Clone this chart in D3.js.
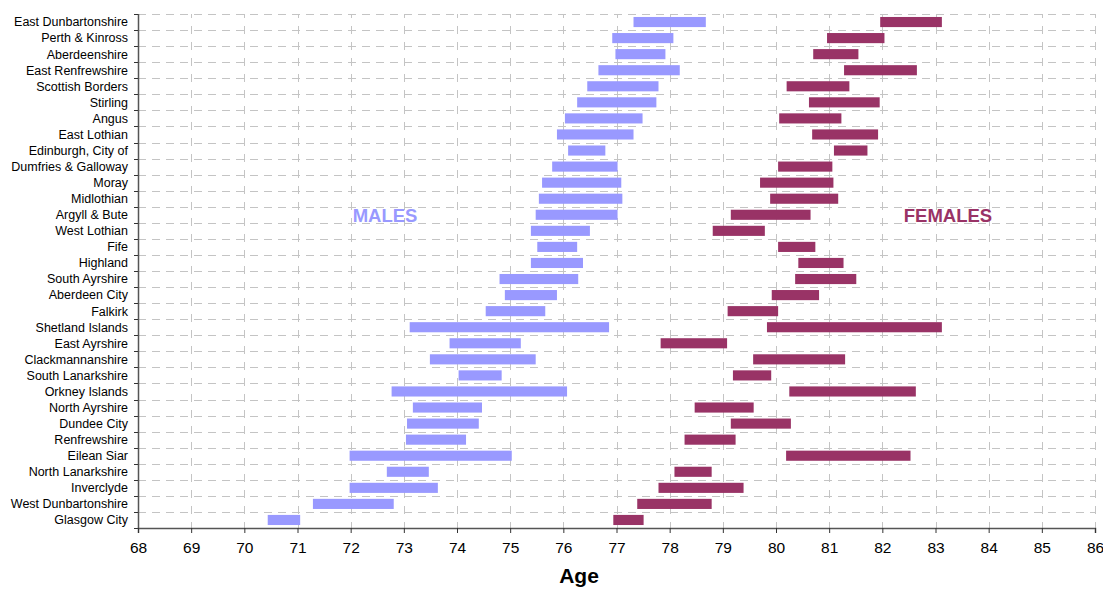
<!DOCTYPE html>
<html><head><meta charset="utf-8">
<script src="https://cdn.jsdelivr.net/npm/d3@7"></script>
<style>
html,body{margin:0;padding:0;background:#fff;}
svg text{font-family:"Liberation Sans",Arial,sans-serif;}
</style></head>
<body><svg id="chart" width="1103" height="589"></svg>
<script>
const categories = ["East Dunbartonshire","Perth & Kinross","Aberdeenshire","East Renfrewshire","Scottish Borders","Stirling","Angus","East Lothian","Edinburgh, City of","Dumfries & Galloway","Moray","Midlothian","Argyll & Bute","West Lothian","Fife","Highland","South Ayrshire","Aberdeen City","Falkirk","Shetland Islands","East Ayrshire","Clackmannanshire","South Lanarkshire","Orkney Islands","North Ayrshire","Dundee City","Renfrewshire","Eilean Siar","North Lanarkshire","Inverclyde","West Dunbartonshire","Glasgow City"];
const maleLow  = [77.32,76.92,76.98,76.66,76.45,76.26,76.03,75.88,76.09,75.79,75.60,75.54,75.48,75.39,75.51,75.39,74.80,74.90,74.54,73.11,73.86,73.49,74.03,72.77,73.17,73.06,73.04,71.98,72.68,71.98,71.29,70.44];
const maleHigh = [78.68,78.07,77.92,78.19,77.79,77.75,77.49,77.32,76.79,77.02,77.09,77.11,77.02,76.50,76.26,76.37,76.28,75.88,75.66,76.86,75.20,75.48,74.84,76.07,74.47,74.41,74.17,75.03,73.47,73.64,72.81,71.05];
const femaleLow  = [81.96,80.96,80.70,81.28,80.20,80.62,80.06,80.68,81.09,80.04,79.70,79.89,79.15,78.81,80.04,80.42,80.36,79.92,79.09,79.83,77.83,79.57,79.19,80.25,78.47,79.15,78.28,80.19,78.09,77.79,77.39,76.94];
const femaleHigh = [83.12,82.04,81.55,82.65,81.38,81.95,81.23,81.92,81.72,81.06,81.08,81.17,80.65,79.79,80.74,81.27,81.51,80.81,80.04,83.12,79.08,81.30,79.91,82.63,79.58,80.28,79.24,82.53,78.79,79.39,78.79,77.51];
const xTicks = d3.range(68, 87, 1);

const mLeft = 138, mRight = 1095, mTop = 14, mBottom = 528;
const svg = d3.select("#chart");
const x = d3.scaleLinear().domain([68, 86]).range([mLeft, mRight]);
const y = d3.scaleBand().domain(categories).range([mTop, mBottom]).paddingInner(0.37).paddingOuter(0.185);
const step = y.step();

// gridlines
const grid = svg.append("g");
d3.range(0, categories.length).forEach(i => {
  const yy = Math.round(mTop + i * step) + 0.5;
  grid.append("line").attr("x1", mLeft).attr("x2", mRight).attr("y1", yy).attr("y2", yy)
    .attr("stroke", "#c4c4c4").attr("stroke-width", 1).attr("stroke-dasharray", "8,6");
});
xTicks.slice(1).forEach(t => {
  const xx = Math.round(x(t)) + 0.5;
  grid.append("line").attr("x1", xx).attr("x2", xx).attr("y1", mTop).attr("y2", mBottom)
    .attr("stroke", "#c4c4c4").attr("stroke-width", 1).attr("stroke-dasharray", "8,8").attr("stroke-dashoffset", 4);
});

// bars
const bh = y.bandwidth();
svg.append("g").selectAll("rect").data(categories).join("rect")
  .attr("x", (d, i) => x(maleLow[i])).attr("width", (d, i) => x(maleHigh[i]) - x(maleLow[i]))
  .attr("y", d => y(d)).attr("height", bh).attr("fill", "#9999ff");
svg.append("g").selectAll("rect").data(categories).join("rect")
  .attr("x", (d, i) => x(femaleLow[i])).attr("width", (d, i) => x(femaleHigh[i]) - x(femaleLow[i]))
  .attr("y", d => y(d)).attr("height", bh).attr("fill", "#993366");

// y axis
const yAxisG = svg.append("g").attr("transform", `translate(${mLeft},0)`);
yAxisG.append("line").attr("x1", 0.5).attr("x2", 0.5).attr("y1", mTop).attr("y2", mBottom).attr("stroke", "#555").attr("stroke-width", 1.5);
d3.range(0, categories.length + 1).forEach(i => {
  const yy = Math.round(mTop + i * step) + 0.5;
  yAxisG.append("line").attr("x1", -4).attr("x2", 0).attr("y1", yy).attr("y2", yy).attr("stroke", "#333");
});
yAxisG.selectAll("text").data(categories).join("text")
  .attr("x", -10).attr("y", d => y(d) + bh / 2).attr("dy", "0.35em")
  .attr("text-anchor", "end").attr("font-size", 12.5).attr("fill", "#000").text(d => d);

// x axis
const xAxis = d3.axisBottom(x).tickValues(xTicks).tickFormat(d3.format("d")).tickSize(5).tickPadding(9);
const xg = svg.append("g").attr("transform", `translate(0,${mBottom})`).call(xAxis);
xg.select(".domain").attr("stroke", "#555").attr("stroke-width", 1.5);
xg.selectAll(".tick line").attr("stroke", "#333");
xg.selectAll(".tick text").attr("font-size", 15.5).attr("fill", "#000");

svg.append("text").attr("x", 579).attr("y", 583).attr("text-anchor", "middle")
  .attr("font-size", 21).attr("font-weight", "bold").attr("fill", "#000").text("Age");

svg.append("text").attr("x", 385).attr("y", 222).attr("text-anchor", "middle")
  .attr("font-size", 18.5).attr("font-weight", "bold").attr("fill", "#9999ff").text("MALES");
svg.append("text").attr("x", 948).attr("y", 222).attr("text-anchor", "middle")
  .attr("font-size", 18.5).attr("font-weight", "bold").attr("fill", "#993366").text("FEMALES");
</script></body></html>
